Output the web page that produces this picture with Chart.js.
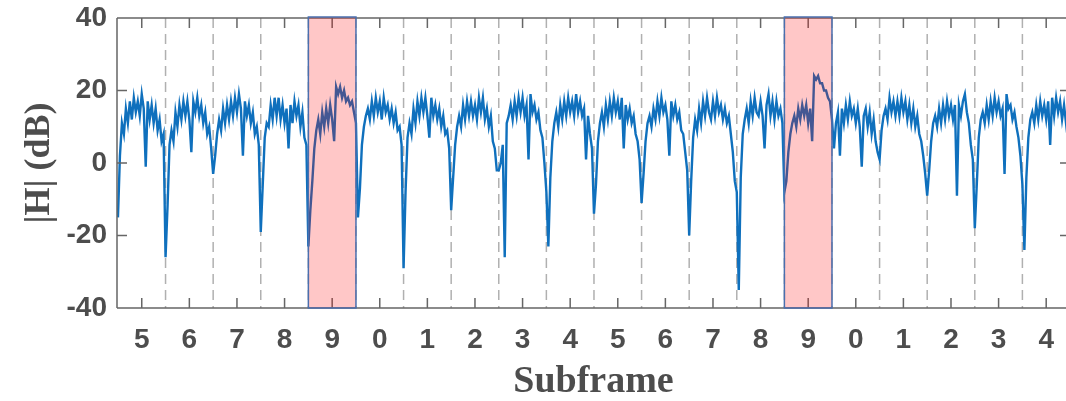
<!DOCTYPE html>
<html>
<head>
<meta charset="utf-8">
<script src="https://cdn.jsdelivr.net/npm/chart.js@4.4.1/dist/chart.umd.min.js"></script>
<style>
  html, body { margin: 0; padding: 0; background: #fff; overflow: hidden; }
  #wrap { width: 1066px; height: 401px; overflow: hidden; }
</style>
</head>
<body>
<div id="wrap"><canvas id="hChart" width="1072" height="401"></canvas></div>
<script>
'use strict';

// data -----------------------------------------------------------------------
// subframe numbers shown under the axis, one per subframe slot
let subframeLabels = [5, 6, 7, 8, 9, 0, 1, 2, 3, 4, 5, 6, 7, 8, 9, 0, 1, 2, 3, 4];
// slots that are highlighted (both are subframe 9)
let highlightSlots = [4, 14];
let samplesPerSubframe = 24;
let yTicks = [-40, -20, 0, 20, 40];

// |H| in dB, 24 samples per subframe
let magDb = [
  // 5
  -15, 2, 11, 8, 15, 11, 17, 12, 18, 14, 17, 13, 19, 15, -1, 17, 12, 16, 11, 15, 9, 12, 6, 8,
  // 6
  -26, -12, 5, 9, 6, 14, 10, 16, 12, 17, 13, 17, 12, 3, 17, 14, 18, 13, 16, 11, 14, 8, 10, 4,
  // 7
  -3, 2, 8, 12, 9, 15, 11, 16, 12, 17, 13, 18, 14, 19, 15, 2, 17, 13, 16, 11, 14, 8, 10, 5,
  // 8
  -19, -6, 7, 11, 10, 16, 12, 18, 13, 18, 12, 16, 11, 15, 4, 16, 11, 17, 13, 16, 10, 14, 7, 5,
  // 9 (highlighted)
  -23, -13, -5, 4, 9, 12, 8, 14, 10, 15, 11, 16, 12, 6, 21, 19, 21, 18, 20, 17, 18, 16, 17, 14,
  // 0
  11, -15, -7, 5, 10, 13, 15, 12, 17, 13, 18, 14, 17, 12, 18, 14, 16, 12, 15, 11, 14, 9, 10, 5,
  // 1
  -29, -8, 7, 11, 8, 15, 11, 17, 13, 18, 14, 18, 13, 7, 18, 13, 16, 12, 15, 10, 13, 8, 9, 4,
  // 2
  -13, -4, 5, 10, 13, 10, 16, 12, 17, 13, 17, 13, 16, 12, 18, 14, 18, 12, 15, 10, 13, 6, 4, -2,
  // 3
  -2, 0, 5, -26, 11, 13, 16, 12, 17, 13, 18, 14, 18, 13, 16, 1, 19, 14, 16, 12, 14, 9, 7, 0,
  // 4
  -8, -23, -4, 6, 11, 14, 10, 16, 12, 17, 13, 18, 14, 17, 13, 19, 14, 17, 13, 15, 1, 13, 8, 4,
  // 5
  -14, -6, 6, 11, 14, 10, 16, 12, 17, 13, 18, 14, 17, 12, 18, 4, 16, 12, 15, 11, 13, 8, 6, 1,
  // 6
  -11, -3, 6, 11, 13, 10, 15, 12, 17, 13, 18, 14, 16, 12, 2, 17, 13, 16, 12, 14, 9, 8, 3, -2,
  // 7
  -20, -5, 7, 12, 9, 15, 11, 17, 13, 18, 14, 12, 17, 13, 18, 14, 16, 12, 15, 11, 13, 8, 3, -5,
  // 8
  -8, -35, -4, 8, 12, 15, 11, 17, 13, 18, 14, 13, 17, 13, 4, 16, 19, 13, 17, 12, 17, 13, 15, 11,
  // 9 (highlighted)
  -8, -5, 3, 8, 11, 13, 10, 15, 12, 16, 13, 16, 11, 15, 6, 24, 23, 24, 22, 22, 20, 20, 18, 17,
  // 0
  12, 4, 11, 14, 2, 15, 11, 16, 12, 17, 13, 15, 11, 15, 10, -1, 13, 15, 10, 14, 8, 12, 6, 3,
  // 1
  1, 9, 13, 15, 12, 18, 14, 17, 13, 17, 13, 18, 14, 17, 12, 16, 11, 15, 10, 13, 8, 6, 2, -3,
  // 2
  -9, -2, 6, 11, 13, 10, 15, 11, 16, 12, 17, 13, 16, 12, 16, -9, 16, 13, 17, 19, 14, 11, 5, 1,
  // 3
  -18, -6, 7, 12, 14, 11, 16, 12, 17, 13, 18, 14, 17, 13, 15, -3, 19, 15, 16, 12, 14, 10, 7, 2,
  // 4
  -6, -24, -4, 7, 12, 14, 11, 16, 12, 17, 13, 16, 12, 17, 5, 18, 13, 18, 14, 17, 12, 16, 11, 15,
  13
];

// build points -----------------------------------------------------------------
let points = [];
for (let i = 0; i < magDb.length; i++) {
  points.push({ x: -0.5 + i / samplesPerSubframe, y: magDb[i] });
}

let tickFont = { family: 'Liberation Sans, Arial, sans-serif', size: 28, weight: 'bold' };
let xTitleFont = { family: 'Liberation Serif, Times New Roman, serif', size: 38, weight: 'bold', lineHeight: 1.0 };
let yTitleFont = { family: 'Liberation Serif, Times New Roman, serif', size: 36, weight: 'bold' };
let textColor = '#4d4d4d';
let axisColor = '#666666';

// dashed slot boundaries, drawn under the line
let boundaryPlugin = {
  id: 'boundaries',
  beforeDatasetsDraw(chart) {
    let ctx = chart.ctx;
    let x = chart.scales.x;
    let area = chart.chartArea;
    ctx.save();
    ctx.strokeStyle = '#b0b0b0';
    ctx.lineWidth = 1.5;
    ctx.setLineDash([10, 6]);
    for (let k = 0; k < subframeLabels.length; k++) {
      let px = x.getPixelForValue(k + 0.5);
      if (px >= area.right - 1) continue;
      ctx.beginPath();
      ctx.moveTo(px, area.top);
      ctx.lineTo(px, area.bottom);
      ctx.stroke();
    }
    ctx.restore();
  }
};

// red boxes over the highlighted subframes, then the axes frame with inward ticks
let framePlugin = {
  id: 'frame',
  afterDatasetsDraw(chart) {
    let ctx = chart.ctx;
    let x = chart.scales.x;
    let y = chart.scales.y;
    let area = chart.chartArea;
    ctx.save();

    // box frame and inward ticks
    ctx.strokeStyle = axisColor;
    ctx.lineWidth = 1.5;
    ctx.beginPath();
    ctx.moveTo(area.left, area.top);
    ctx.lineTo(area.right, area.top);
    ctx.moveTo(area.left, area.bottom);
    ctx.lineTo(area.right, area.bottom);
    ctx.moveTo(area.left, area.top);
    ctx.lineTo(area.left, area.bottom);
    ctx.moveTo(area.right, area.top);
    ctx.lineTo(area.right, area.bottom);
    for (let k = 0; k < subframeLabels.length; k++) {
      let px = x.getPixelForValue(k);
      ctx.moveTo(px, area.bottom);
      ctx.lineTo(px, area.bottom - 10);
      ctx.moveTo(px, area.top);
      ctx.lineTo(px, area.top + 10);
    }
    for (let t of yTicks) {
      let py = y.getPixelForValue(t);
      ctx.moveTo(area.left, py);
      ctx.lineTo(area.left + 10, py);
      ctx.moveTo(area.right, py);
      ctx.lineTo(area.right - 10, py);
    }
    ctx.stroke();

    for (let s of highlightSlots) {
      let x0 = x.getPixelForValue(s - 0.5);
      let x1 = x.getPixelForValue(s + 0.5);
      let y0 = y.getPixelForValue(40) - 1;
      let y1 = y.getPixelForValue(-40);
      ctx.fillStyle = 'rgba(255, 0, 0, 0.22)';
      ctx.fillRect(x0, y0, x1 - x0, y1 - y0);
      ctx.strokeStyle = '#4a6fae';
      ctx.lineWidth = 1.5;
      ctx.strokeRect(x0, y0, x1 - x0, y1 - y0);
    }
    ctx.restore();
  }
};

let chartObject = {
  type: 'line',
  data: {
    datasets: [{
      data: points,
      borderColor: '#0f70bd',
      borderWidth: 2.4,
      pointRadius: 0,
      tension: 0,
      fill: false
    }]
  },
  options: {
    responsive: false,
    animation: false,
    devicePixelRatio: 1,
    layout: { padding: { top: 18, right: 2, left: 0, bottom: 0 } },
    plugins: {
      legend: { display: false },
      tooltip: { enabled: false }
    },
    scales: {
      x: {
        type: 'linear',
        min: -0.52,
        max: 19.5,
        afterBuildTicks(scale) {
          scale.ticks = subframeLabels.map((lab, i) => ({ value: i }));
        },
        afterFit(scale) {
          scale.height = 93;
          scale.paddingLeft = 0;
          scale.paddingRight = 0;
        },
        ticks: {
          autoSkip: false,
          maxRotation: 0,
          padding: 15,
          color: textColor,
          font: tickFont,
          callback: (value) => String(subframeLabels[value])
        },
        grid: { display: false, drawTicks: false },
        border: { display: false },
        title: {
          display: true,
          text: 'Subframe',
          color: textColor,
          font: xTitleFont,
          padding: { top: 0, bottom: 0 }
        }
      },
      y: {
        min: -40,
        max: 40,
        afterBuildTicks(scale) {
          scale.ticks = yTicks.map(v => ({ value: v }));
        },
        afterFit(scale) {
          scale.width = 117;
          scale.paddingTop = 0;
          scale.paddingBottom = 0;
        },
        ticks: {
          padding: 10,
          color: textColor,
          font: tickFont
        },
        grid: { display: false, drawTicks: false },
        border: { display: false },
        title: {
          display: true,
          text: '|H| (dB)',
          color: textColor,
          font: yTitleFont,
          padding: { top: 18, bottom: 0 }
        }
      }
    }
  },
  plugins: [boundaryPlugin, framePlugin]
};

let ctx = document.getElementById('hChart').getContext('2d');
let myChart = new Chart(ctx, chartObject);
</script>
</body>
</html>
